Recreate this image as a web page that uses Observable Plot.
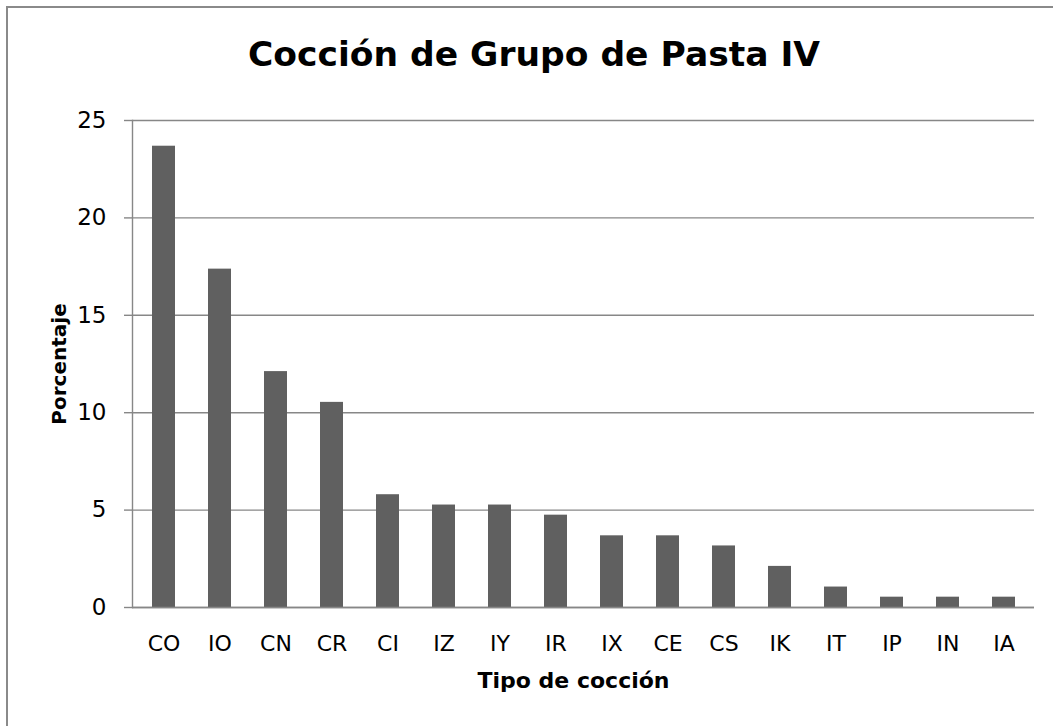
<!DOCTYPE html>
<html><head><meta charset="utf-8">
<script src="https://cdn.jsdelivr.net/npm/d3@7"></script>
<script src="https://cdn.jsdelivr.net/npm/@observablehq/plot@0.6"></script>
<style>
body{margin:0;background:#fff;}
#wrap{position:relative;width:1053px;height:726px;overflow:hidden;font-family:"DejaVu Sans";}
#frame{position:absolute;left:6px;top:6px;width:1200px;height:900px;border-left:2px solid #8a8a8a;border-top:2px solid #8a8a8a;}
#title{position:absolute;left:0;width:1068px;top:37px;text-align:center;font-weight:bold;font-size:34.5px;line-height:34px;color:#000;}
#chart{position:absolute;left:0;top:80px;}
</style></head><body>
<div id="wrap"><div id="frame"></div><div id="title">Cocción de Grupo de Pasta IV</div><div id="chart"></div></div>
<script>
const categories = ["CO","IO","CN","CR","CI","IZ","IY","IR","IX","CE","CS","IK","IT","IP","IN","IA"];
const values = [23.68,17.37,12.11,10.53,5.79,5.26,5.26,4.74,3.68,3.68,3.16,2.11,1.05,0.53,0.53,0.53];
const yTicks = [0,5,10,15,20,25];
const yLabel = "Porcentaje";
const xLabel = "Tipo de cocción";
const data = categories.map((c,i)=>({tipo:c, pct: values[i]}));
const gray = "#878787";
const plot = Plot.plot({
  width:1053, height:646, marginTop:40, marginBottom:119, marginLeft:132, marginRight:19,
  style:{fontFamily:"DejaVu Sans", fontSize:"22px", color:"#000", background:"transparent", overflow:"visible"},
  x:{domain:categories, paddingInner:0.59, paddingOuter:0.295, label:null},
  y:{domain:[0,25], label:null},
  marks:[
    Plot.gridY(yTicks,{stroke:gray, strokeOpacity:1, strokeWidth:1.4}),
    Plot.axisY(yTicks,{tickSize:8, tickPadding:18, stroke:gray, strokeWidth:1.4, fill:"#000", fontSize:23, label:null}),
    Plot.barY(data,{x:"tipo", y:"pct", fill:"#606060"}),
    Plot.ruleY([0],{stroke:gray, strokeWidth:1.6}),
    Plot.frame({anchor:"left", stroke:gray, strokeWidth:1.4}),
    Plot.axisX({tickSize:0, tickPadding:28, fontSize:22, fill:"#000", label:null}),
    Plot.text([yLabel],{frameAnchor:"left", dx:-73, rotate:-90, textAnchor:"middle", lineAnchor:"middle", fontWeight:"bold", fontSize:20, fill:"#000"}),
    Plot.text([xLabel],{frameAnchor:"bottom", dx:-10, dy:73, textAnchor:"middle", lineAnchor:"middle", fontWeight:"bold", fontSize:22, fill:"#000"})
  ]
});
document.getElementById("chart").appendChild(plot);
</script>
</body></html>
